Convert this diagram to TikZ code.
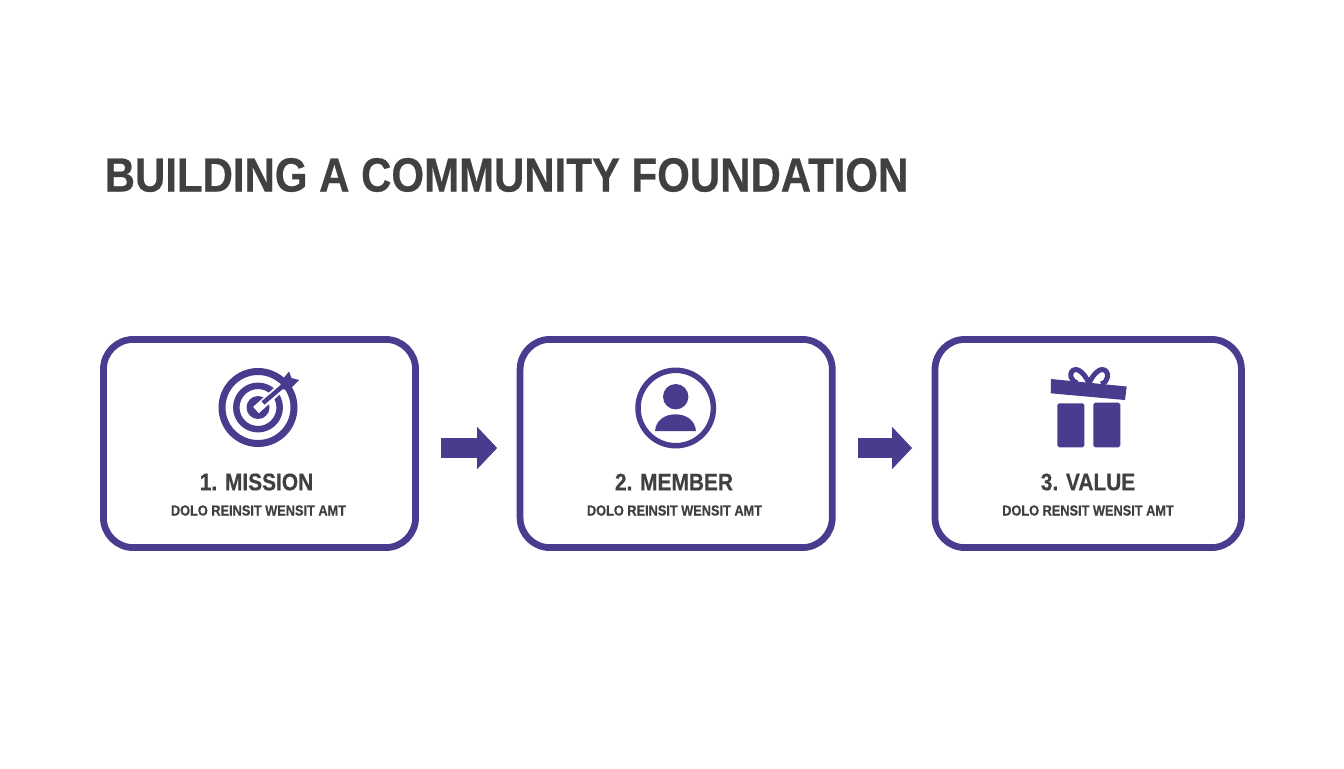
\documentclass[tikz,border=0pt]{standalone}
\usepackage{xcolor}
\usepackage{fontspec}
\setmainfont[FakeStretch=0.875,BoldFeatures={FakeBold=0.5}]{Liberation Sans}
\definecolor{purp}{RGB}{75,59,143}
\definecolor{ink}{RGB}{64,64,64}
\usetikzlibrary{arrows.meta,positioning}
\tikzset{
  stepbox/.style={rectangle,draw=purp,line width=0.135cm,rounded corners=0.6cm,fill=white,minimum width=6.245cm,minimum height=4.165cm},
  headline/.style={text=ink,font=\fontsize{27.3}{30}\selectfont\bfseries,inner sep=0pt},
  steptitle/.style={text=ink,font=\fontsize{13.6}{15}\selectfont\bfseries,inner sep=0pt},
  stepsub/.style={text=ink,font=\fontsize{8.3}{10}\selectfont\bfseries,inner sep=0pt},
  flow/.style={draw=purp,line width=0.39cm,-{Triangle[length=0.4cm,width=0.82cm,fill=purp]},shorten <=0.44cm,shorten >=0.39cm},
  iconline/.style={draw=purp,fill=none},
  iconfill/.style={fill=purp,draw=none},
}
\begin{document}
\begin{tikzpicture}[x=0.02cm,y=-0.02cm]
    \useasboundingbox (0,0) rectangle (1344,768);
    \node[headline] (title) at (506.5,175) {BUILDING A COMMUNITY FOUNDATION};

    \node[stepbox] (mission) at (259.5,443.5) {};
    \node[stepbox,right=1.955cm of mission] (member) {};
    \node[stepbox,right=1.92cm of member,minimum width=6.13cm] (value) {};

    \node[steptitle] (missiont) at (256.5,482) {1. MISSION};
    \node[stepsub] (missions) at (258.5,510.5) {DOLO REINSIT WENSIT AMT};
    \node[steptitle] (membert) at (674,482) {2. MEMBER};
    \node[stepsub] (members) at (674.5,510.5) {DOLO REINSIT WENSIT AMT};
    \node[steptitle] (valuet) at (1088,482) {3. VALUE};
    \node[stepsub] (values) at (1088,510.5) {DOLO RENSIT WENSIT AMT};

    \draw[flow] ([yshift=-0.09cm]mission.east) -- ([yshift=-0.09cm]member.west);
    \draw[flow] ([yshift=-0.09cm]member.east) -- ([yshift=-0.09cm]value.west);

    % target
    \draw[iconline,line width=0.14cm] (258,407.5) circle[radius=36];
    \draw[iconline,line width=0.13cm] (258,407.5) circle[radius=21.7];
    \fill[purp] (258,407.5) circle[radius=11.5];
    \draw[white,line width=0.17cm] (256,410) -- (296,374);
    \draw[purp,line width=0.09cm] (263,403) -- (284,385);
    \fill[iconfill] (280,382.5) -- (289,371.5) -- (291.5,378) -- (299,380) -- (288.5,390.5) -- (282,389) -- cycle;

    % person
    \draw[iconline,line width=0.11cm] (675.7,408) circle[radius=37.7];
    \fill[iconfill] (675.7,396.7) circle[radius=12.7];
    \fill[iconfill] (655,431) .. controls (656,420) and (665,414.3) .. (675.5,414.3) .. controls (686,414.3) and (695,420) .. (696,431) -- cycle;

    % gift
    \fill[iconfill] (1051,379) -- (1126.7,386.5) -- (1125,400) -- (1050.7,393.3) -- cycle;
    \fill[iconfill,rounded corners=1pt] (1057.3,403.3) rectangle (1084.3,447.3);
    \fill[iconfill,rounded corners=1pt] (1093.3,402.7) rectangle (1120.3,447.3);
    \draw[iconline,line width=0.1cm] (1089,383) .. controls (1084,373) and (1079,369.5) .. (1076,369.5) .. controls (1072,369.5) and (1070,373) .. (1071,377) .. controls (1072,380) and (1074,382) .. (1077,383);
    \draw[iconline,line width=0.1cm] (1089,383) .. controls (1094,373) and (1099,369.5) .. (1102,369.5) .. controls (1106,369.5) and (1108,373) .. (1107.5,377) .. controls (1107,380) and (1105,383) .. (1101,384);
\end{tikzpicture}
\end{document}
